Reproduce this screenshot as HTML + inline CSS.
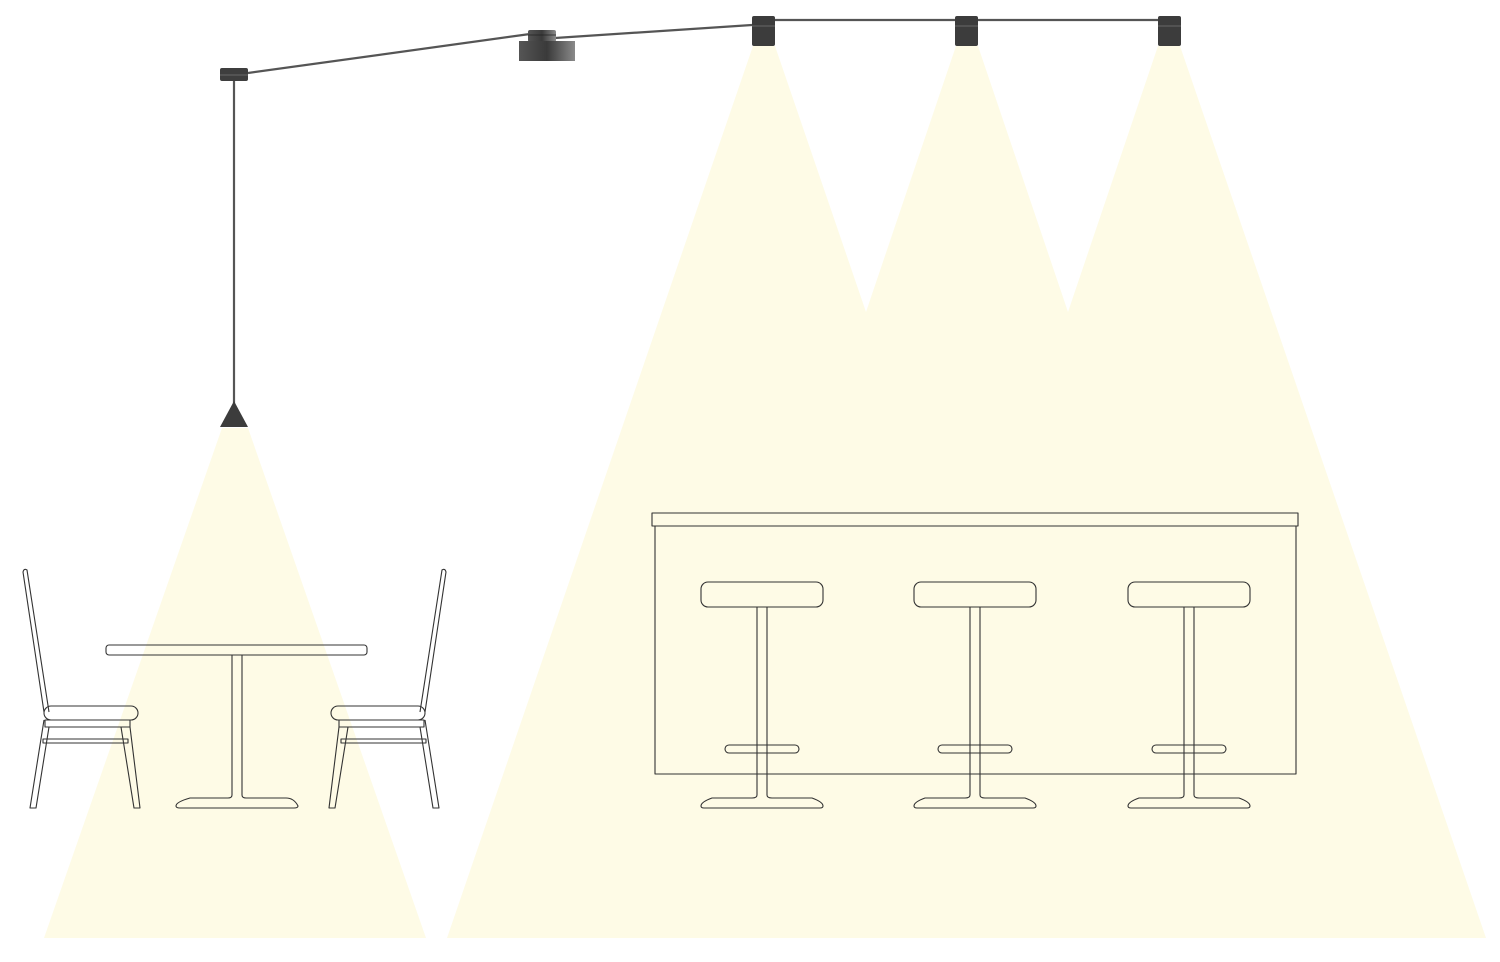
<!DOCTYPE html>
<html><head><meta charset="utf-8"><style>html,body{margin:0;padding:0;background:#fff}svg{display:block}</style></head>
<body>
<svg width="1500" height="962" viewBox="0 0 1500 962" xmlns="http://www.w3.org/2000/svg">
<defs>
<linearGradient id="g1" x1="0" x2="1" y1="0" y2="0">
<stop offset="0" stop-color="#555"/><stop offset="0.5" stop-color="#3a3a3a"/><stop offset="1" stop-color="#8a8a8a"/>
</linearGradient>
</defs>
<g fill="#fefbe6">
<polygon points="222,428 248,428 426,938 44,938"/>
<polygon points="753,46 775,46 866,312 956,46 978,46 1068,312 1158,46 1180,46 1486,938 447,938"/>
</g>
<g stroke="#555" stroke-width="2.2" fill="none">
<line x1="248" y1="73" x2="530" y2="34"/>
<line x1="555" y1="38" x2="752" y2="25"/>
<line x1="775" y1="20" x2="1158" y2="20"/>
<line x1="234" y1="80" x2="234" y2="404"/>
</g>
<rect x="220" y="68" width="28" height="13" rx="2" fill="#3e3e3e"/>
<line x1="220" y1="75" x2="248" y2="75" stroke="#777" stroke-width="0.8"/>
<polygon points="234,401 220,427 248,427" fill="#3c3c3c"/>
<rect x="528" y="30" width="28" height="12" rx="2" fill="url(#g1)"/>
<line x1="528" y1="35" x2="556" y2="35" stroke="#222" stroke-width="0.8"/>
<rect x="519" y="41" width="56" height="20" fill="url(#g1)"/>
<g fill="#3c3c3c">
<rect x="752" y="16" width="23" height="30" rx="2"/>
<rect x="955" y="16" width="23" height="30" rx="2"/>
<rect x="1158" y="16" width="23" height="30" rx="2"/>
</g>
<g stroke="#777" stroke-width="0.8">
<line x1="752" y1="26" x2="775" y2="26"/><line x1="955" y1="26" x2="978" y2="26"/><line x1="1158" y1="26" x2="1181" y2="26"/>
</g>
<g fill="none" stroke="#333" stroke-width="1.1" stroke-linejoin="round">
<!-- table -->
<rect x="106" y="645" width="261" height="10" rx="3"/>
<path d="M232,655 V795 Q232,798 228,798 H190 Q176,802 176,806 Q176,808 180,808 H294 Q298,808 298,806 Q294,798 286,798 H246 Q242,798 242,795 V655"/>
<!-- left chair -->
<g id="chair">
<path d="M44,712 L23,572 Q24,568 27,570 L49,712"/>
<path d="M44,720 L30,808 H36 L49,727"/>
<rect x="44" y="706" width="94" height="14" rx="7"/>
<rect x="45" y="720" width="85" height="7"/>
<rect x="43" y="739" width="85" height="4"/>
<path d="M121,727 L134,808 H140 L130,727"/>
</g>
<use href="#chair" transform="translate(469,0) scale(-1,1)"/>
<!-- bar -->
<rect x="652" y="513" width="646" height="13"/>
<path d="M655,526 V774 H1296 V526"/>
<g id="stool">
<rect x="701" y="582" width="122" height="25" rx="7"/>
<rect x="725" y="745" width="74" height="8" rx="4"/>
<path d="M757,607 V795 Q757,798 752,798 H712 Q701,802 701,806 Q701,808 704,808 H820 Q823,808 823,806 Q823,802 812,798 H772 Q767,798 767,795 V607"/>
</g>
<use href="#stool" transform="translate(213,0)"/>
<use href="#stool" transform="translate(427,0)"/>
</g>
</svg>
</body></html>
